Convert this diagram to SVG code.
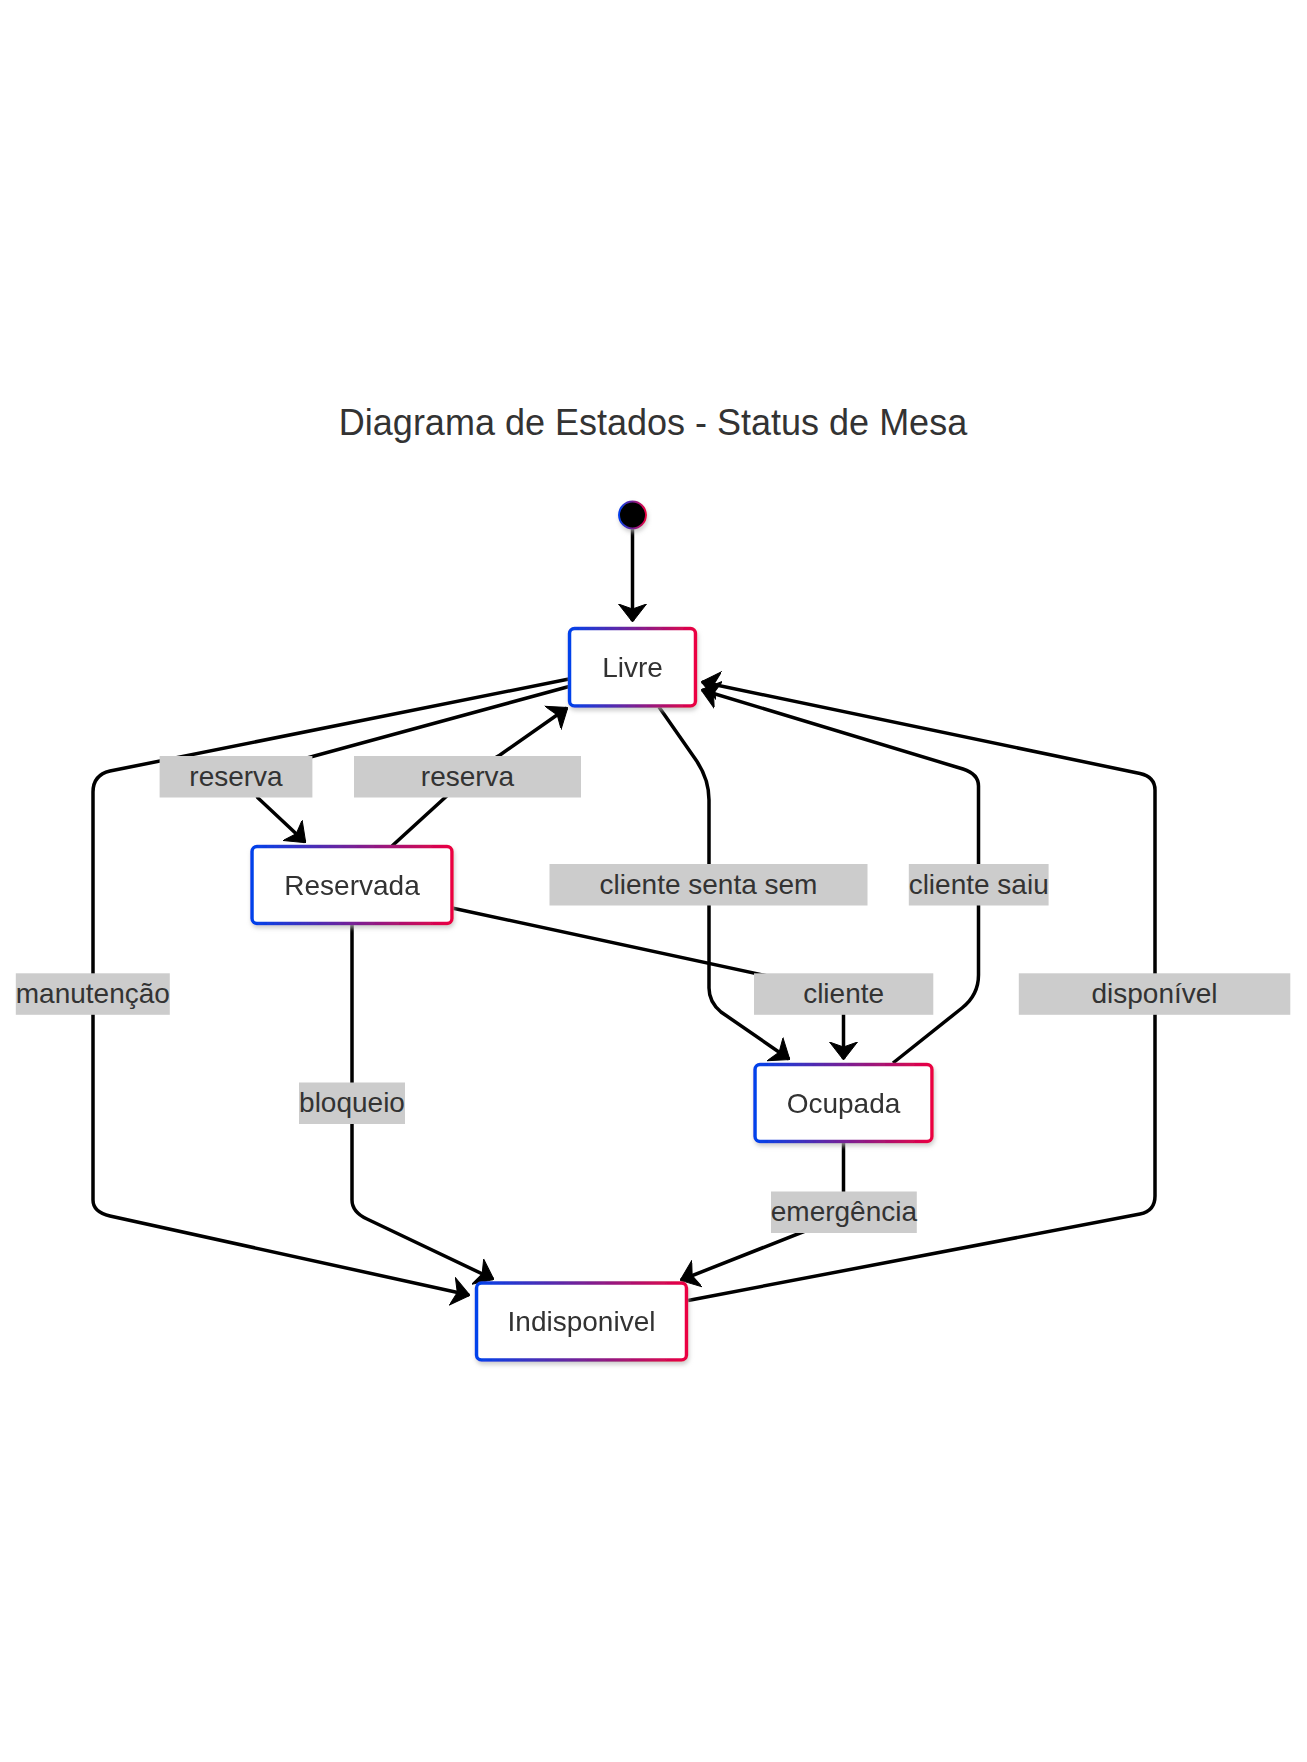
<svg xmlns="http://www.w3.org/2000/svg" width="1307" height="1762" viewBox="0 0 1307 1762">
<style>
text { font-family: "Liberation Sans", Arial, Helvetica, sans-serif; fill: #333333; }
.title { font-size: 36px; text-anchor: middle; }
.node rect { fill: #ffffff; stroke: url(#grad); stroke-width: 3.5; }
.node text { font-size: 28px; text-anchor: middle; }
.edge { fill: none; stroke: #000000; stroke-width: 3.5; marker-end: url(#arrow); }
.lbl rect { fill: #cccccc; }
.lbl text { font-size: 28px; text-anchor: middle; }
</style>
<defs>
<linearGradient id="grad" x1="0" y1="0" x2="1" y2="0">
<stop offset="0" stop-color="#0042eb"/>
<stop offset="1" stop-color="#eb0042"/>
</linearGradient>
<filter id="shadow" x="-20%" y="-20%" width="140%" height="160%">
<feDropShadow dx="1" dy="3" stdDeviation="2" flood-color="#b9b9b9" flood-opacity="0.7"/>
</filter>
<marker id="arrow" viewBox="0 0 18 30" refX="17" refY="15" markerWidth="18" markerHeight="30" markerUnits="userSpaceOnUse" orient="auto">
<path d="M 18 15 L 0 1 L 5 15 L 0 29 Z" fill="#000000" stroke="#000000" stroke-width="1" stroke-linejoin="miter"/>
</marker>
</defs>
<rect x="0" y="0" width="1307" height="1762" fill="#ffffff"/>
<text class="title" x="653" y="435">Diagrama de Estados - Status de Mesa</text>

<g id="connectors">
<path id="e-start-livre" class="edge" d="M 632.5 529 L 632.5 621"/>
<path id="e-livre-reservada" class="edge" d="M 569 686.5 L 285 764 Q 245 776 258 798 L 305 842"/>
<path id="e-reservada-livre" class="edge" d="M 392 846 L 450 793 Q 470 772 500 755 L 567 708"/>
<path id="e-livre-ocupada" class="edge" d="M 659 707 L 696 760 Q 709 779 709 800 L 709 988 Q 709 1002 721 1012 L 789 1059"/>
<path id="e-ocupada-livre" class="edge" d="M 893 1063 L 962 1008 Q 978.5 995 978.5 975 L 978.5 786 Q 978.5 774 963 769 L 702 690"/>
<path id="e-indisponivel-livre" class="edge" d="M 688 1300.5 L 1140 1214 Q 1155 1211 1155 1196 L 1155 790 Q 1155 777 1140 773.5 L 702 682"/>
<path id="e-livre-indisponivel" class="edge" d="M 569 679 L 110 771 Q 93 775 93 792 L 93 1200 Q 93 1212 110 1216 L 469 1295"/>
<path id="e-reservada-indisponivel" class="edge" d="M 352 924 L 352 1200 Q 352 1212 367 1219 L 493 1279"/>
<path id="e-reservada-ocupada" class="edge" d="M 452 908 L 800 983 Q 843.5 992 843.5 1005 L 843.5 1059"/>
<path id="e-ocupada-indisponivel" class="edge" d="M 843.5 1142 L 843.5 1208 Q 843.5 1216 828 1222 L 681 1280"/>
</g>

<g id="edge-labels">
<g class="lbl" id="l-reserva1"><rect x="159.6" y="756" width="152.8" height="41.5"/><text x="236" y="785.5">reserva</text></g>
<g class="lbl" id="l-reserva2"><rect x="354" y="756" width="227" height="41.5"/><text x="467.5" y="785.5">reserva</text></g>
<g class="lbl" id="l-senta"><rect x="549.5" y="864" width="318" height="41.5"/><text x="708.5" y="893.5">cliente senta sem</text></g>
<g class="lbl" id="l-saiu"><rect x="908.8" y="864" width="139.8" height="41.5"/><text x="978.7" y="893.5">cliente saiu</text></g>
<g class="lbl" id="l-manutencao"><rect x="15.8" y="973.3" width="154" height="41.5"/><text x="92.8" y="1002.8">manutenção</text></g>
<g class="lbl" id="l-cliente"><rect x="754" y="973.3" width="179.3" height="41.5"/><text x="843.6" y="1002.8">cliente</text></g>
<g class="lbl" id="l-disponivel"><rect x="1018.8" y="973.3" width="271.5" height="41.5"/><text x="1154.5" y="1002.8">disponível</text></g>
<g class="lbl" id="l-bloqueio"><rect x="299" y="1082.5" width="106" height="41.5"/><text x="352" y="1112">bloqueio</text></g>
<g class="lbl" id="l-emergencia"><rect x="771" y="1191.5" width="145.8" height="41.5"/><text x="843.9" y="1221">emergência</text></g>
</g>

<g id="node-start" filter="url(#shadow)">
<circle cx="632.5" cy="515" r="13.5" fill="#000000" stroke="url(#grad)" stroke-width="2"/>
</g>
<g id="node-livre" class="node" filter="url(#shadow)">
<rect x="569.5" y="628.5" width="126" height="77.5" rx="5" ry="5"/>
<text x="632.5" y="676.5">Livre</text>
</g>
<g id="node-reservada" class="node" filter="url(#shadow)">
<rect x="252" y="846.5" width="200" height="77" rx="5" ry="5"/>
<text x="352" y="894.5">Reservada</text>
</g>
<g id="node-ocupada" class="node" filter="url(#shadow)">
<rect x="755" y="1064.5" width="177" height="77" rx="5" ry="5"/>
<text x="843.5" y="1113">Ocupada</text>
</g>
<g id="node-indisponivel" class="node" filter="url(#shadow)">
<rect x="476.5" y="1283" width="210" height="77" rx="5" ry="5"/>
<text x="581.5" y="1331">Indisponivel</text>
</g>
</svg>
